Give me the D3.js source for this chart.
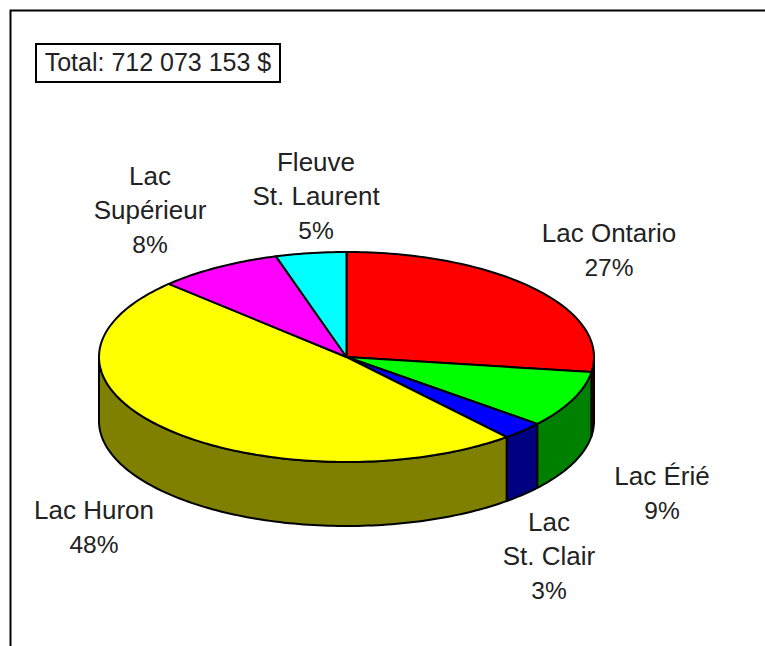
<!DOCTYPE html>
<html><head><meta charset="utf-8">
<script src="https://cdn.jsdelivr.net/npm/d3@7/dist/d3.min.js"></script>
<style>html,body{margin:0;padding:0;background:#fff}svg{display:block}
text{font-family:"Liberation Sans",Arial,sans-serif;font-size:26px;fill:#222;text-anchor:middle}
.pct{font-size:24.5px}.total{font-size:25px}</style>
</head><body><svg id="c" width="765" height="646"></svg>
<script>
const categories=["Lac Ontario","Lac Érié","Lac St. Clair","Lac Huron","Lac Supérieur","Fleuve St. Laurent"];
const shares=[27.3,8.7,2.8,48.45,8.15,4.6];
const topColors=["#ff0000","#00ff00","#0000ff","#ffff00","#ff00ff","#00ffff"];
const sideColors=["#800000","#008000","#000080","#808000","#800080","#008080"];
const labelLines=[["Lac Ontario","27%"],["Lac Érié","9%"],["Lac","St. Clair","3%"],["Lac Huron","48%"],["Lac","Supérieur","8%"],["Fleuve","St. Laurent","5%"]];
const labelAnchors=[[609,242],[662,485],[549,531],[94,519],[150,185],[316,171]];
const totalLabel="Total: 712 073 153 $";

const svg=d3.select("#c");
const stroke="#000";
const x=d3.scaleLinear().domain([-1,1]).range([99,594]);
const y=d3.scaleLinear().domain([-1,1]).range([252,462]);
const depth=64;
const pie=d3.pie().sort(null).value(d=>d)(shares);
const pt=a=>[x(Math.sin(a)),y(-Math.cos(a))];
const arcPts=(a0,a1)=>{const n=Math.max(2,Math.ceil((a1-a0)/0.02));return d3.range(n+1).map(i=>pt(a0+(a1-a0)*i/n));};
const line=d3.line();

// frame
svg.append("path").attr("d","M10.5,646V10.5H765").attr("fill","none").attr("stroke",stroke).attr("stroke-width",2);

// side walls: only the front half of the rim is visible
pie.forEach((s,i)=>{
  const a0=Math.max(s.startAngle,Math.PI/2),a1=Math.min(s.endAngle,3*Math.PI/2);
  if(a1<=a0)return;
  const t=arcPts(a0,a1),b=t.map(p=>[p[0],p[1]+depth]).reverse();
  svg.append("path").attr("d",line(t.concat(b))+"Z").attr("fill",sideColors[i]).attr("stroke",stroke).attr("stroke-width",2).attr("stroke-linejoin","round");
});
// top faces
pie.forEach((s,i)=>{
  const c=[x(0),y(0)];
  svg.append("path").attr("d",line([c].concat(arcPts(s.startAngle,s.endAngle)))+"Z").attr("fill",topColors[i]).attr("stroke",stroke).attr("stroke-width",2).attr("stroke-linejoin","round");
});
// labels
labelLines.forEach((ls,i)=>{
  const t=svg.append("text").attr("transform",`translate(${labelAnchors[i]})`);
  ls.forEach((l,j)=>t.append("tspan").attr("class",l.endsWith("%")?"pct":null).attr("x",0).attr("y",j*34).text(l));
});
// total box
svg.append("rect").attr("x",36).attr("y",44).attr("width",244).attr("height",38).attr("fill","#fff").attr("stroke",stroke).attr("stroke-width",2);
svg.append("text").attr("class","total").attr("x",158).attr("y",71).text(totalLabel);
</script></body></html>
